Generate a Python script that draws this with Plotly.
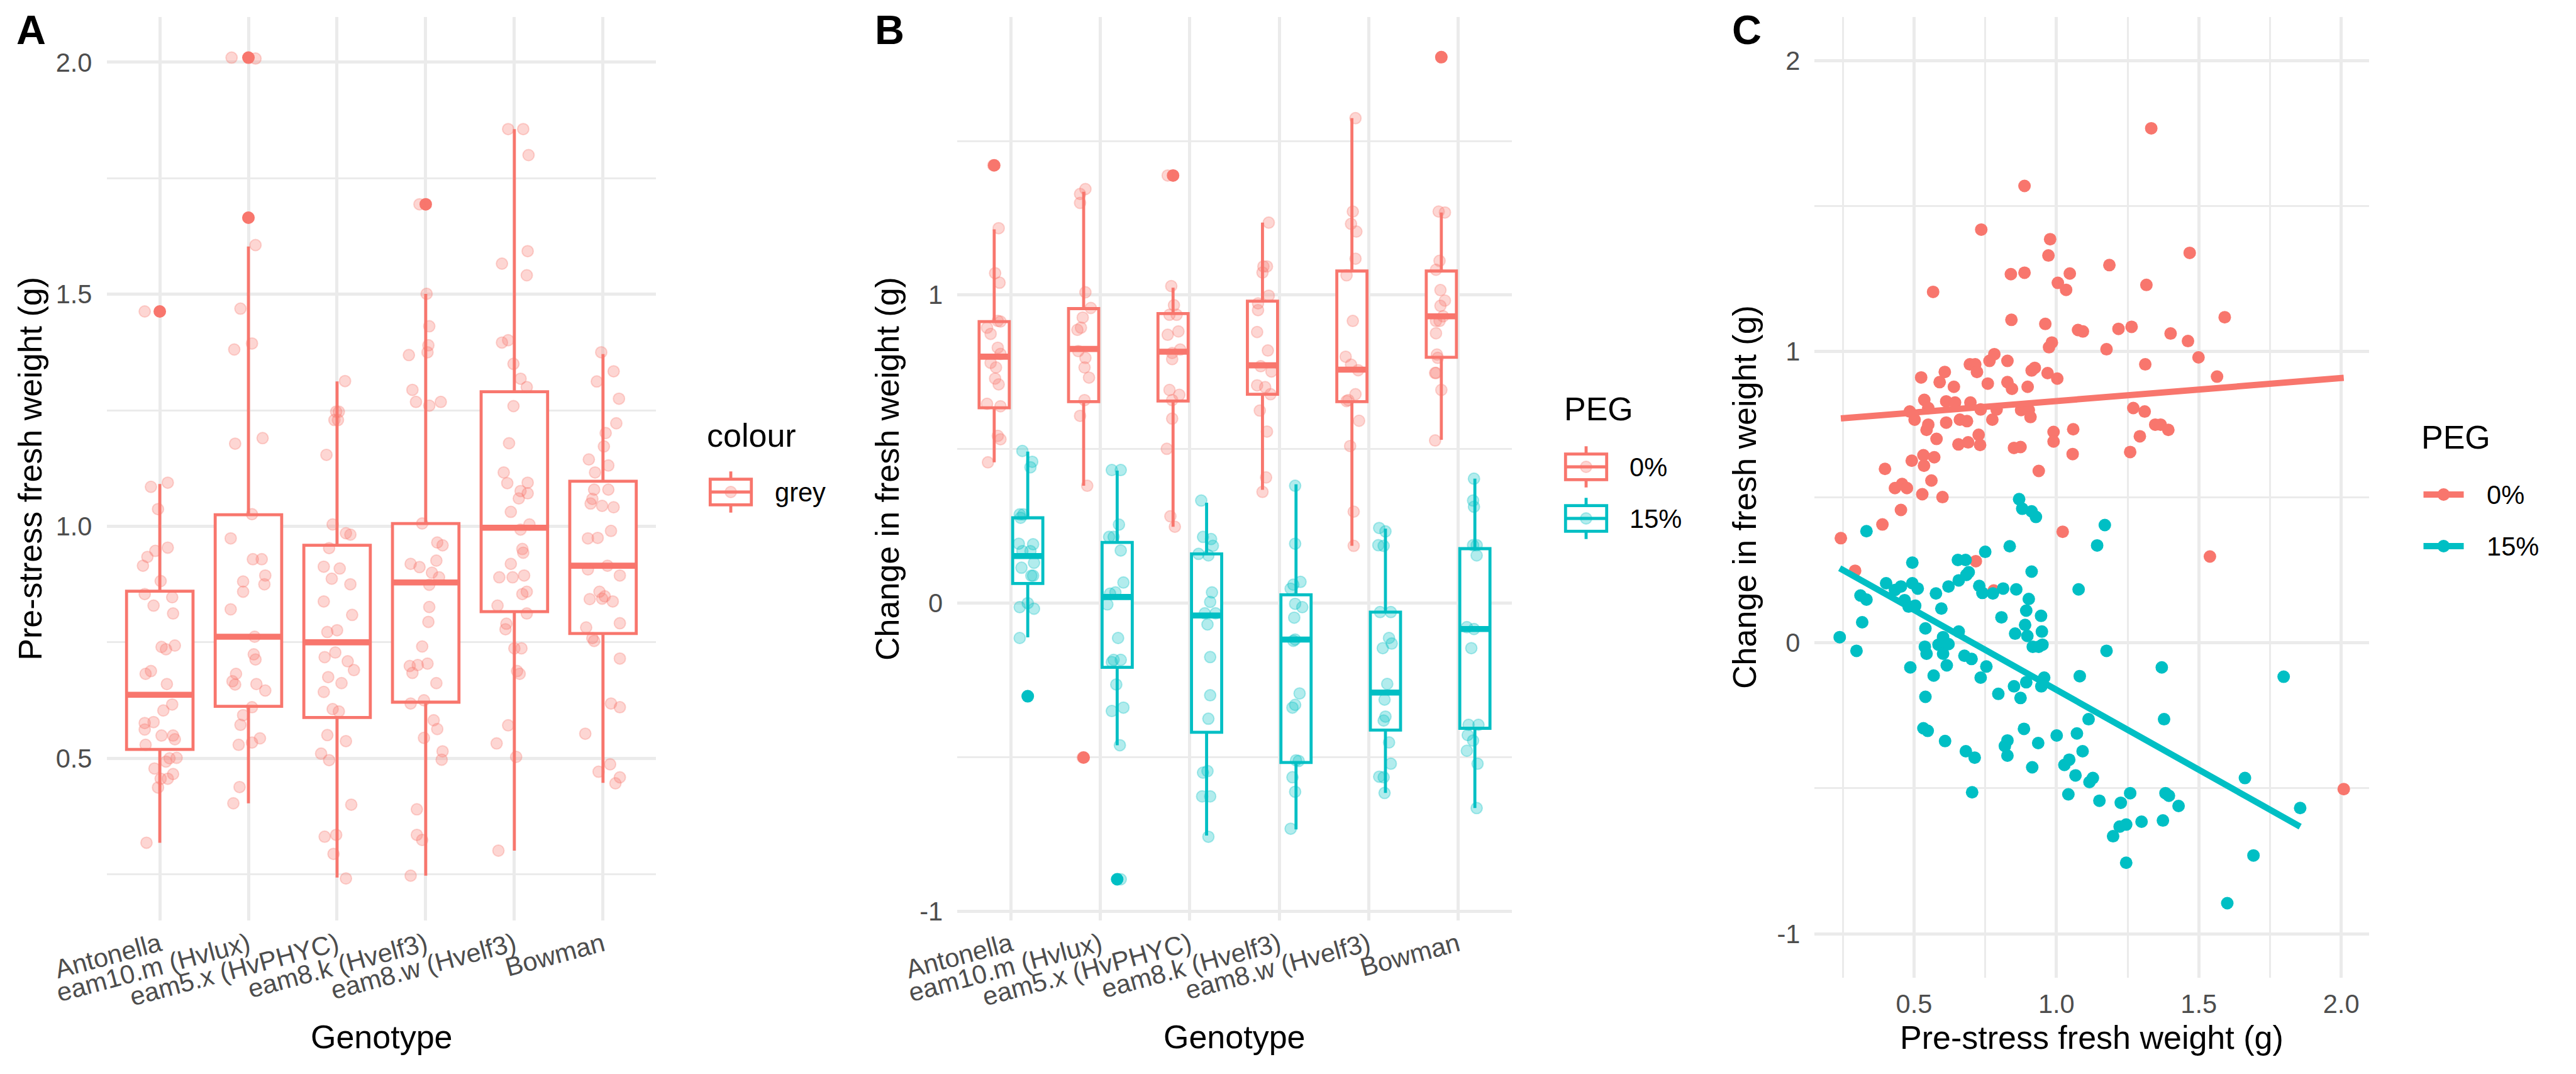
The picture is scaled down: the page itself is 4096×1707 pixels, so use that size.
import numpy as np
import plotly.graph_objects as go

W, H = 4096, 1707
RED = "#F8766D"
TEAL = "#00BFC4"
RED_A = "rgba(248,118,109,0.3)"
TEAL_A = "rgba(0,191,196,0.3)"
GRID = "#EBEBEB"
TICKC = "#4D4D4D"
FONT = "Liberation Sans, Arial, Helvetica, sans-serif"

# ---------------- categories ----------------
genotypes = ["Antonella", "eam10.m (Hvlux)", "eam5.x (HvPHYC)",
             "eam8.k (Hvelf3)", "eam8.w (Hvelf3)", "Bowman"]
positions = [1, 2, 3, 4, 5, 6]

# ---------------- Panel A: pre-stress fresh weight (g) ----------------
pre_antonella = [1.463, 1.094, 1.085, 1.037, 0.954, 0.947, 0.934, 0.915, 0.882, 0.854, 0.847, 0.829,
                 0.812, 0.740, 0.743, 0.735, 0.660, 0.682, 0.688, 0.616, 0.603, 0.576, 0.578, 0.562,
                 0.549, 0.549, 0.529, 0.541, 0.478, 0.500, 0.493, 0.501, 0.456, 0.466, 0.456, 0.437, 0.318]
jit_antonella = [-0.17, 0.09, -0.10, -0.02, 0.09, -0.05, -0.14, -0.19, 0.01, -0.17, 0.14, -0.07,
                 0.15, 0.02, 0.17, 0.07, 0.08, -0.16, -0.10, 0.14, 0.04, -0.17, -0.07, -0.17,
                 0.02, 0.15, -0.16, 0.17, -0.06, 0.11, 0.07, 0.19, 0.01, 0.15, 0.09, -0.02, -0.15]
pre_eam10 = [2.010, 2.008, 1.665, 1.606, 1.469, 1.394, 1.381, 1.190, 1.178, 1.026, 0.974, 0.929,
             0.929, 0.894, 0.881, 0.875, 0.859, 0.821, 0.762, 0.724, 0.713, 0.682, 0.666, 0.659,
             0.660, 0.646, 0.610, 0.593, 0.572, 0.529, 0.543, 0.534, 0.438, 0.403]
jit_eam10 = [-0.19, 0.08, 0.00, 0.08, -0.09, 0.04, -0.16, 0.16, -0.15, 0.04, -0.20, 0.05,
             0.15, 0.19, -0.06, 0.18, -0.06, -0.20, 0.07, 0.06, 0.08, -0.14, -0.18, -0.15,
             0.09, 0.19, 0.04, -0.06, -0.09, -0.11, 0.13, 0.04, -0.10, -0.17]
pre_eam5 = [1.313, 1.247, 1.247, 1.229, 1.229, 1.154, 1.004, 0.985, 0.982, 0.953, 0.913, 0.909,
            0.887, 0.875, 0.838, 0.809, 0.772, 0.776, 0.728, 0.718, 0.709, 0.690, 0.675, 0.662,
            0.643, 0.606, 0.601, 0.550, 0.537, 0.510, 0.496, 0.400, 0.331, 0.335, 0.294, 0.241]
jit_eam5 = [0.09, -0.01, 0.02, -0.03, 0.01, -0.12, -0.05, 0.10, 0.15, -0.09, -0.15, 0.03,
            -0.06, 0.15, -0.15, 0.17, -0.11, 0.00, -0.02, -0.14, 0.12, 0.19, -0.10, 0.05,
            -0.15, -0.05, 0.02, -0.11, 0.10, -0.18, -0.09, 0.16, -0.14, -0.01, -0.04, 0.10]
pre_eam8k = [1.694, 1.501, 1.431, 1.390, 1.375, 1.369, 1.294, 1.268, 1.260, 1.268, 1.006, 0.919,
             0.912, 0.965, 0.959, 0.926, 0.900, 0.890, 0.874, 0.826, 0.794, 0.741, 0.699, 0.701,
             0.704, 0.684, 0.662, 0.618, 0.625, 0.582, 0.563, 0.544, 0.515, 0.497, 0.390, 0.335,
             0.324, 0.247]
jit_eam8k = [-0.07, 0.01, 0.04, 0.03, 0.02, -0.19, -0.15, -0.11, 0.04, 0.17, -0.04, -0.17,
             -0.07, 0.13, 0.19, 0.12, 0.07, 0.15, 0.04, 0.04, 0.03, -0.04, -0.18, -0.09,
             0.02, -0.15, 0.12, -0.17, -0.02, 0.09, 0.13, -0.02, 0.19, 0.18, -0.10, -0.10,
             -0.04, -0.17]
pre_eam8w = [1.856, 1.856, 1.800, 1.566, 1.593, 1.541, 1.396, 1.401, 1.350, 1.318, 1.300, 1.259,
             1.179, 1.116, 1.093, 1.094, 1.076, 1.071, 1.060, 1.031, 1.004, 0.993, 0.951, 0.943,
             0.919, 0.890, 0.890, 0.894, 0.859, 0.854, 0.829, 0.812, 0.790, 0.778, 0.737, 0.737,
             0.688, 0.682, 0.571, 0.532, 0.503, 0.301]
jit_eam8w = [-0.07, 0.10, 0.16, -0.14, 0.15, 0.14, -0.14, -0.07, -0.01, 0.07, 0.14, -0.01,
             -0.06, -0.12, -0.08, 0.15, 0.07, 0.15, 0.05, -0.04, 0.17, 0.07, 0.09, 0.10,
             -0.04, -0.17, -0.02, 0.11, 0.14, 0.09, -0.19, 0.14, -0.09, -0.10, 0.00, 0.08,
             0.03, 0.06, -0.07, -0.20, 0.02, -0.18]
pre_bowman = [1.375, 1.334, 1.312, 1.275, 1.222, 1.201, 1.172, 1.144, 1.131, 1.116, 1.079, 1.079,
              1.059, 1.049, 1.044, 1.041, 0.990, 0.974, 0.975, 0.915, 0.894, 0.907, 0.859, 0.849,
              0.843, 0.838, 0.844, 0.791, 0.782, 0.753, 0.759, 0.715, 0.618, 0.610, 0.553, 0.471,
              0.487, 0.446, 0.459]
jit_bowman = [-0.02, 0.12, -0.07, 0.18, 0.15, 0.03, 0.01, -0.16, 0.06, -0.09, -0.10, 0.06,
              -0.12, -0.14, -0.01, 0.12, 0.09, -0.17, -0.06, 0.05, 0.19, -0.17, -0.04, 0.02,
              -0.15, 0.11, -0.01, 0.19, -0.19, -0.10, -0.12, 0.19, 0.09, 0.19, -0.20, -0.05,
              0.08, 0.14, 0.19]

# box statistics
a_lower = [0.318, 0.403, 0.243, 0.247, 0.301, 0.447]
a_q1 = [0.519, 0.612, 0.588, 0.621, 0.816, 0.769]
a_median = [0.637, 0.762, 0.750, 0.879, 0.997, 0.915]
a_q3 = [0.860, 1.025, 0.959, 1.006, 1.290, 1.097]
a_upper = [1.091, 1.603, 1.312, 1.501, 1.856, 1.371]
a_outlier_pos = [1, 2, 2, 4]
a_outlier_val = [1.463, 2.010, 1.665, 1.694]

# ---------------- Panel B: change in fresh weight (g) ----------------
chg0_antonella = [1.421, 1.217, 1.071, 1.040, 0.894, 0.916, 0.914, 0.874, 0.829, 0.809, 0.780,
                  0.765, 0.729, 0.710, 0.647, 0.639, 0.543, 0.532, 0.457]
jit0_antonella = [-0.01, 0.05, 0.01, 0.06, -0.08, 0.04, 0.07, -0.04, 0.04, 0.07, -0.04,
                  0.02, 0.01, 0.05, -0.08, 0.07, 0.04, 0.07, -0.07]
chg15_antonella = [0.494, 0.459, 0.441, 0.288, 0.288, 0.277, 0.193, 0.191, 0.169, 0.169, 0.131,
                   0.115, 0.089, 0.089, -0.013, 0.000, -0.018, -0.113, -0.302]
jit15_antonella = [-0.06, 0.05, 0.03, -0.09, -0.05, -0.08, -0.10, 0.06, -0.06, 0.03, 0.07,
                   -0.07, 0.04, 0.06, -0.09, 0.00, 0.07, -0.09, 0.00]
chg0_eam10 = [1.344, 1.328, 1.299, 1.009, 0.958, 0.927, 0.887, 0.894, 0.818, 0.796, 0.765,
              0.732, 0.659, 0.608, 0.381, -0.501]
jit0_eam10 = [0.02, -0.04, -0.04, 0.02, 0.08, -0.01, -0.07, -0.03, -0.06, 0.02, 0.01,
              0.06, 0.01, -0.04, 0.04, -0.01]
chg15_eam10 = [0.432, 0.432, 0.255, 0.215, 0.215, 0.171, 0.031, 0.035, 0.067, -0.004, -0.113,
               -0.184, -0.184, -0.191, -0.264, -0.339, -0.350, -0.461, -0.896]
jit15_eam10 = [-0.06, 0.04, 0.02, -0.09, -0.04, 0.04, -0.08, -0.02, 0.07, -0.11, 0.01,
               -0.04, 0.04, -0.06, -0.01, 0.07, -0.06, 0.03, 0.04]
chg0_eam5 = [1.388, 1.029, 0.967, 0.936, 0.936, 0.882, 0.871, 0.812, 0.823, 0.792, 0.692,
             0.676, 0.659, 0.599, 0.501, 0.282, 0.248]
jit0_eam5 = [-0.06, -0.02, 0.01, -0.04, 0.04, 0.06, -0.06, -0.01, 0.08, -0.01, -0.04,
             0.07, -0.01, -0.01, -0.07, -0.03, 0.02]
chg15_eam5 = [0.333, 0.215, 0.208, 0.186, 0.160, 0.155, 0.035, 0.004, -0.033, -0.033, -0.069,
              -0.175, -0.299, -0.375, -0.550, -0.545, -0.627, -0.627, -0.758]
jit15_eam5 = [-0.06, -0.04, 0.05, 0.07, -0.09, 0.02, 0.06, 0.04, -0.02, 0.10, 0.01,
              0.04, 0.04, 0.02, -0.04, 0.01, -0.05, 0.04, 0.02]
chg0_eam8k = [1.235, 1.093, 1.093, 1.073, 0.998, 0.973, 0.951, 0.880, 0.820, 0.769, 0.752,
              0.707, 0.701, 0.678, 0.625, 0.557, 0.408, 0.361]
jit0_eam8k = [0.07, 0.01, 0.05, 0.00, 0.07, -0.05, -0.05, -0.06, 0.06, -0.02, 0.10,
              -0.06, 0.03, 0.09, -0.03, 0.05, 0.04, 0.00]
chg15_eam8k = [0.381, 0.193, 0.069, 0.060, 0.047, -0.002, -0.013, -0.047, -0.118, -0.122, -0.293,
               -0.339, -0.330, -0.510, -0.512, -0.565, -0.612, -0.732]
jit15_eam8k = [-0.01, -0.01, 0.05, -0.03, -0.06, -0.01, 0.07, -0.02, -0.01, -0.03, 0.04,
               -0.04, -0.01, 0.00, 0.03, -0.04, -0.01, -0.06]
chg0_eam8w = [1.574, 1.271, 1.231, 1.206, 1.118, 1.064, 0.916, 0.800, 0.774, 0.756, 0.678,
              0.656, 0.659, 0.592, 0.510, 0.297, 0.186]
jit0_eam8w = [0.04, 0.01, -0.01, 0.05, 0.04, -0.06, 0.01, -0.07, -0.01, 0.07, 0.04,
              -0.06, -0.04, 0.08, -0.02, 0.02, 0.02]
chg15_eam8w = [0.244, 0.233, 0.188, 0.186, -0.029, -0.029, -0.113, -0.131, -0.146, -0.262, -0.313,
               -0.368, -0.381, -0.452, -0.521, -0.563, -0.565, -0.616]
jit15_eam8w = [-0.07, 0.00, -0.08, -0.02, -0.06, 0.06, 0.04, 0.07, -0.03, 0.02, -0.01,
               0.00, -0.02, 0.04, 0.06, -0.07, -0.02, -0.01]
chg0_bowman = [1.772, 1.271, 1.268, 1.111, 1.082, 1.016, 0.982, 0.965, 0.931, 0.916, 0.916,
               0.876, 0.807, 0.796, 0.747, 0.747, 0.692, 0.528]
jit0_bowman = [0.00, -0.03, 0.04, -0.02, -0.06, -0.01, 0.04, -0.01, 0.02, -0.06, -0.02,
               -0.06, -0.05, -0.04, -0.07, -0.06, 0.00, -0.07]
chg15_bowman = [0.404, 0.333, 0.313, 0.188, 0.188, 0.155, -0.078, -0.084, -0.146, -0.395, -0.395,
                -0.428, -0.446, -0.479, -0.521, -0.665]
jit15_bowman = [-0.01, -0.02, -0.01, -0.02, 0.02, 0.02, -0.09, -0.01, -0.04, 0.04, -0.07,
                -0.08, -0.02, -0.09, 0.03, 0.02]

# box statistics
b0_lower = [0.457, 0.381, 0.248, 0.368, 0.186, 0.530]
b0_q1 = [0.634, 0.654, 0.656, 0.678, 0.654, 0.798]
b0_median = [0.800, 0.825, 0.816, 0.772, 0.758, 0.931]
b0_q3 = [0.914, 0.956, 0.940, 0.980, 1.078, 1.078]
b0_upper = [1.213, 1.335, 1.024, 1.235, 1.574, 1.268]
b0_outlier_pos = [1, 2, 3, 6]
b0_outlier_val = [1.421, -0.501, 1.388, 1.772]
b15_lower = [-0.111, -0.461, -0.754, -0.734, -0.616, -0.665]
b15_q1 = [0.064, -0.208, -0.419, -0.517, -0.412, -0.406]
b15_median = [0.153, 0.020, -0.040, -0.118, -0.290, -0.084]
b15_q3 = [0.277, 0.197, 0.160, 0.027, -0.029, 0.177]
b15_upper = [0.492, 0.430, 0.326, 0.386, 0.242, 0.404]
b15_outlier_pos = [1, 2]
b15_outlier_val = [-0.302, -0.896]

# ---------------- Panel C: pre-stress vs change ----------------
c_x0 = [0.243, 0.293, 0.398, 0.389, 0.433, 0.454, 0.458, 0.475, 0.485, 0.492, 0.502, 0.525,
        0.529, 0.533, 0.535, 0.536, 0.544, 0.550, 0.550, 0.561, 0.567, 0.571, 0.579, 0.590,
        0.600, 0.608, 0.613, 0.613, 0.640, 0.644, 0.656, 0.661, 0.686, 0.690, 0.696, 0.698,
        0.715, 0.717, 0.721, 0.727, 0.732, 0.736, 0.734, 0.759, 0.765, 0.775, 0.780, 0.782,
        0.790, 0.828, 0.828, 0.840, 0.842, 0.844, 0.851, 0.874, 0.876, 0.888, 0.888, 0.899,
        0.903, 0.909, 0.913, 0.924, 0.938, 0.961, 0.969, 0.972, 0.974, 0.978, 0.984, 0.990,
        0.990, 1.003, 1.005, 1.022, 1.034, 1.047, 1.057, 1.059, 1.076, 1.093, 1.176, 1.186,
        1.218, 1.259, 1.264, 1.270, 1.293, 1.310, 1.316, 1.312, 1.333, 1.347, 1.366, 1.393,
        1.401, 1.462, 1.468, 1.499, 1.539, 1.564, 1.591, 2.009]
c_y0 = [0.359, 0.247, 0.597, 0.406, 0.531, 0.456, 0.545, 0.531, 0.794, 0.625, 0.766, 0.911,
        0.510, 0.644, 0.608, 0.834, 0.731, 0.806, 0.749, 0.557, 1.205, 0.637, 0.700, 0.895,
        0.500, 0.930, 0.756, 0.829, 0.879, 0.825, 0.681, 0.766, 0.761, 0.688, 0.956, 0.825,
        0.956, 0.280, 0.930, 0.714, 0.679, 1.419, 0.801, 0.890, 0.968, 0.766, 0.179, 0.991,
        0.801, 0.968, 0.895, 1.266, 1.109, 0.872, 0.669, 0.672, 0.799, 1.569, 1.271, 0.879,
        0.799, 0.775, 0.935, 0.944, 0.590, 1.095, 0.926, 1.330, 1.015, 1.386, 1.031, 0.724,
        0.691, 0.907, 1.236, 0.381, 1.212, 1.268, 0.648, 0.733, 1.074, 1.069, 1.008, 1.297,
        1.078, 0.655, 1.085, 0.806, 0.709, 0.794, 1.229, 0.956, 1.767, 0.749, 0.749, 0.731,
        1.062, 1.036, 1.339, 0.980, 0.296, 0.914, 1.118, -0.503]
c_x15 = [0.239, 0.298, 0.318, 0.333, 0.312, 0.333, 0.402, 0.433, 0.454, 0.467, 0.481, 0.487,
         0.494, 0.494, 0.504, 0.513, 0.540, 0.540, 0.538, 0.533, 0.544, 0.548, 0.569, 0.577,
         0.586, 0.596, 0.602, 0.602, 0.609, 0.615, 0.621, 0.621, 0.654, 0.657, 0.657, 0.677,
         0.681, 0.684, 0.682, 0.692, 0.702, 0.704, 0.713, 0.729, 0.734, 0.740, 0.750, 0.754,
         0.777, 0.796, 0.807, 0.813, 0.819, 0.828, 0.828, 0.836, 0.851, 0.855, 0.859, 0.869,
         0.874, 0.880, 0.886, 0.890, 0.894, 0.894, 0.898, 0.903, 0.913, 0.913, 0.915, 0.917,
         0.928, 0.936, 0.938, 0.946, 0.949, 0.951, 0.957, 0.947, 1.001, 1.028, 1.042, 1.045,
         1.067, 1.072, 1.078, 1.082, 1.092, 1.113, 1.116, 1.128, 1.151, 1.170, 1.143, 1.176,
         1.199, 1.222, 1.226, 1.245, 1.245, 1.259, 1.299, 1.370, 1.374, 1.378, 1.383, 1.395,
         1.429, 1.600, 1.662, 1.692, 1.798, 1.856]
c_y15 = [0.019, -0.028, 0.070, 0.383, 0.162, 0.148, 0.204, 0.181, 0.193, 0.146, 0.124, -0.085,
         0.275, 0.204, 0.127, 0.186, 0.049, -0.186, -0.014, -0.294, -0.038, -0.303, -0.113, 0.169,
         -0.007, 0.117, 0.019, -0.038, -0.338, -0.078, -0.005, 0.193, 0.284, 0.038, 0.214, -0.045,
         0.284, 0.233, -0.373, 0.242, -0.056, -0.514, -0.395, 0.195, -0.120, 0.171, 0.312, -0.082,
         0.169, -0.176, 0.087, 0.186, -0.355, -0.336, -0.388, 0.331, -0.150, 0.031, 0.183, 0.493,
         -0.190, 0.460, -0.296, 0.061, 0.110, -0.136, 0.023, 0.150, 0.244, 0.451, -0.428, -0.014,
         0.432, -0.345, -0.014, 0.092, 0.038, -0.007, -0.120, -0.150, -0.319, -0.420, -0.521, -0.402,
         -0.456, -0.312, 0.183, -0.115, -0.373, -0.263, -0.479, -0.465, -0.543, 0.404, 0.334, -0.028,
         -0.665, -0.632, -0.550, -0.625, -0.756, -0.517, -0.615, -0.085, -0.611, -0.263, -0.517, -0.526,
         -0.561, -0.895, -0.465, -0.731, -0.117, -0.568]

# linear-fit lines as drawn in panel C (intercept, slope)
c_fit0 = [0.751, 0.079]
c_fit15 = [0.387, -0.549]

# tick labels / gridlines
a_yticks = [0.5, 1.0, 1.5, 2.0]
a_yminor = [0.25, 0.75, 1.25, 1.75]
b_yticks = [-1, 0, 1]
b_yminor = [-0.5, 0.5, 1.5]
c_xticks = [0.5, 1.0, 1.5, 2.0]
c_xminor = [0.25, 0.75, 1.25, 1.75]
c_yticks = [-1, 0, 1, 2]
c_yminor = [-0.5, 0.5, 1.5]

pre_groups = [(pre_antonella, jit_antonella), (pre_eam10, jit_eam10), (pre_eam5, jit_eam5),
              (pre_eam8k, jit_eam8k), (pre_eam8w, jit_eam8w), (pre_bowman, jit_bowman)]
chg0_groups = [(chg0_antonella, jit0_antonella), (chg0_eam10, jit0_eam10), (chg0_eam5, jit0_eam5),
               (chg0_eam8k, jit0_eam8k), (chg0_eam8w, jit0_eam8w), (chg0_bowman, jit0_bowman)]
chg15_groups = [(chg15_antonella, jit15_antonella), (chg15_eam10, jit15_eam10), (chg15_eam5, jit15_eam5),
                (chg15_eam8k, jit15_eam8k), (chg15_eam8w, jit15_eam8w), (chg15_bowman, jit15_bowman)]

# ---------------- layout helpers (pixel -> paper) ----------------
def px(x):
    return x / W

def py(y):
    return 1 - y / H

BOX_LW = 4.8
MED_LW = 9.6
FIT_LW = 10
PT = 18
PT_LINE = 2

fig = go.Figure()

# ---------- Panel A ----------
A_W = 0.75
fig.add_trace(go.Box(x=positions, q1=a_q1, median=a_median, q3=a_q3,
                     lowerfence=a_lower, upperfence=a_upper, orientation="v",
                     width=A_W, whiskerwidth=0, boxpoints=False,
                     line=dict(color=RED, width=BOX_LW), fillcolor="white",
                     xaxis="x", yaxis="y", showlegend=False, hoverinfo="skip"))
mx, my = [], []
for p, m in zip(positions, a_median):
    mx += [p - A_W / 2, p + A_W / 2, None]
    my += [m, m, None]
fig.add_trace(go.Scatter(x=mx, y=my, mode="lines", line=dict(color=RED, width=MED_LW),
                         xaxis="x", yaxis="y", showlegend=False, hoverinfo="skip"))
fig.add_trace(go.Scatter(x=a_outlier_pos, y=a_outlier_val, mode="markers",
                         marker=dict(size=PT + PT_LINE, color=RED, line=dict(width=0)),
                         xaxis="x", yaxis="y", showlegend=False, hoverinfo="skip"))
jx, jy = [], []
for p, (vals, jit) in zip(positions, pre_groups):
    jx += [p + j for j in jit]
    jy += list(vals)
fig.add_trace(go.Scatter(x=jx, y=jy, mode="markers",
                         marker=dict(size=PT, color=RED_A, line=dict(color=RED_A, width=PT_LINE)),
                         xaxis="x", yaxis="y", showlegend=False, hoverinfo="skip"))

# ---------- Panel B ----------
B_W = 0.3375
B_OFF = 0.1875
for sign, col, q1, med, q3, lo, hi, opos, oval in [
        (-1, RED, b0_q1, b0_median, b0_q3, b0_lower, b0_upper, b0_outlier_pos, b0_outlier_val),
        (1, TEAL, b15_q1, b15_median, b15_q3, b15_lower, b15_upper, b15_outlier_pos, b15_outlier_val)]:
    bx = [p + sign * B_OFF for p in positions]
    fig.add_trace(go.Box(x=bx, q1=q1, median=med, q3=q3, lowerfence=lo, upperfence=hi,
                         orientation="v", width=B_W, whiskerwidth=0, boxpoints=False,
                         line=dict(color=col, width=BOX_LW), fillcolor="white",
                         xaxis="x2", yaxis="y2", showlegend=False, hoverinfo="skip"))
    mx, my = [], []
    for p, m in zip(bx, med):
        mx += [p - B_W / 2, p + B_W / 2, None]
        my += [m, m, None]
    fig.add_trace(go.Scatter(x=mx, y=my, mode="lines", line=dict(color=col, width=MED_LW),
                             xaxis="x2", yaxis="y2", showlegend=False, hoverinfo="skip"))
    fig.add_trace(go.Scatter(x=[p + sign * B_OFF for p in opos], y=oval, mode="markers",
                             marker=dict(size=PT + PT_LINE, color=col, line=dict(width=0)),
                             xaxis="x2", yaxis="y2", showlegend=False, hoverinfo="skip"))
for sign, cola, groups in [(-1, RED_A, chg0_groups), (1, TEAL_A, chg15_groups)]:
    jx, jy = [], []
    for p, (vals, jit) in zip(positions, groups):
        jx += [p + sign * B_OFF + j for j in jit]
        jy += list(vals)
    fig.add_trace(go.Scatter(x=jx, y=jy, mode="markers",
                             marker=dict(size=PT, color=cola, line=dict(color=cola, width=PT_LINE)),
                             xaxis="x2", yaxis="y2", showlegend=False, hoverinfo="skip"))

# ---------- Panel C ----------
for xs, ys, col in [(c_x0, c_y0, RED), (c_x15, c_y15, TEAL)]:
    fig.add_trace(go.Scatter(x=xs, y=ys, mode="markers",
                             marker=dict(size=PT + PT_LINE, color=col, line=dict(width=0)),
                             xaxis="x3", yaxis="y3", showlegend=False, hoverinfo="skip"))
for xs, fit, col in [(c_x0, c_fit0, RED), (c_x15, c_fit15, TEAL)]:
    lx = np.array([min(xs), max(xs)])
    fig.add_trace(go.Scatter(x=lx, y=fit[0] + fit[1] * lx, mode="lines",
                             line=dict(color=col, width=FIT_LW),
                             xaxis="x3", yaxis="y3", showlegend=False, hoverinfo="skip"))

# ---------------- axes ----------------
PANEL_A_X = (169.5, 1043.4)
PANEL_B_X = (1522.2, 2403.8)
PANEL_C_X = (2885.4, 3767.0)
PANEL_AB_Y = (26.7, 1462.6)
PANEL_C_Y = (26.7, 1553.5)

tickfont = dict(family=FONT, size=41.6, color=TICKC)
common = dict(showgrid=True, gridcolor=GRID, gridwidth=5, zeroline=False, showline=False,
              ticks="", tickfont=tickfont, automargin=False)

def minor(vals):
    return dict(tickvals=vals, showgrid=True, gridcolor=GRID, gridwidth=2.5, ticks="")

fig.update_layout(
    width=W, height=H, margin=dict(l=0, r=0, t=0, b=0, pad=0, autoexpand=False),
    paper_bgcolor="white", plot_bgcolor="white", showlegend=False,
    font=dict(family=FONT),
    xaxis=dict(domain=[px(PANEL_A_X[0]), px(PANEL_A_X[1])], anchor="y", range=[0.4, 6.6],
               tickvals=positions, ticktext=genotypes, tickangle=-15, ticklabelstandoff=6, **common),
    yaxis=dict(domain=[py(PANEL_AB_Y[1]), py(PANEL_AB_Y[0])], anchor="x", range=[0.151, 2.098],
               tickvals=a_yticks, ticktext=["0.5", "1.0", "1.5", "2.0"], minor=minor(a_yminor),
               ticklabelstandoff=22, **common),
    xaxis2=dict(domain=[px(PANEL_B_X[0]), px(PANEL_B_X[1])], anchor="y2", range=[0.4, 6.6],
                tickvals=positions, ticktext=genotypes, tickangle=-15, ticklabelstandoff=6, **common),
    yaxis2=dict(domain=[py(PANEL_AB_Y[1]), py(PANEL_AB_Y[0])], anchor="x2", range=[-1.029, 1.903],
                tickvals=b_yticks, ticktext=["-1", "0", "1"], minor=minor(b_yminor),
                ticklabelstandoff=22, **common),
    xaxis3=dict(domain=[px(PANEL_C_X[0]), px(PANEL_C_X[1])], anchor="y3", range=[0.151, 2.098],
                tickvals=c_xticks, ticktext=["0.5", "1.0", "1.5", "2.0"], minor=minor(c_xminor),
                ticklabelstandoff=14, **common),
    yaxis3=dict(domain=[py(PANEL_C_Y[1]), py(PANEL_C_Y[0])], anchor="x3", range=[-1.15, 2.15],
                tickvals=c_yticks, ticktext=["-1", "0", "1", "2"], minor=minor(c_yminor),
                ticklabelstandoff=22, **common),
)

# ---------------- annotations: tags, axis titles, legends ----------------
ann = []
def text(x, y, s, size, xanchor="center", yanchor="middle", angle=0, bold=False, color="black"):
    ann.append(dict(x=px(x), y=py(y), xref="paper", yref="paper", text=("<b>%s</b>" % s) if bold else s,
                    showarrow=False, xanchor=xanchor, yanchor=yanchor, textangle=angle,
                    font=dict(family=FONT, size=size, color=color)))

TITLE = 52
LEG = 41.6
for lbl, x in [("A", 24), ("B", 1389), ("C", 2752)]:
    text(x, 47, lbl, 65, xanchor="left", bold=True)
text(47.7, 745, "Pre-stress fresh weight (g)", TITLE, angle=-90)
text(1411, 745, "Change in fresh weight (g)", TITLE, angle=-90)
text(2774, 790, "Change in fresh weight (g)", TITLE, angle=-90)
text(606.5, 1648, "Genotype", TITLE)
text(1963, 1648, "Genotype", TITLE)
text(3326, 1649, "Pre-stress fresh weight (g)", TITLE)

# legend titles & labels
text(1121.6, 692, "colour", TITLE, xanchor="left")
text(1230, 782, "grey", LEG, xanchor="left")
text(2485, 650, "PEG", TITLE, xanchor="left")
text(2589, 742, "0%", LEG, xanchor="left")
text(2589, 824, "15%", LEG, xanchor="left")
text(3848, 695, "PEG", TITLE, xanchor="left")
text(3952, 786, "0%", LEG, xanchor="left")
text(3952, 868, "15%", LEG, xanchor="left")

shapes = []
KEY = 81.8
def box_key(cx, cy, col, cola):
    bw, bh, wh = 0.8 * KEY, 0.5 * KEY, 0.15 * KEY
    shapes.append(dict(type="line", xref="paper", yref="paper", x0=px(cx), x1=px(cx),
                       y0=py(cy - bh / 2 - wh), y1=py(cy + bh / 2 + wh), line=dict(color=col, width=BOX_LW)))
    shapes.append(dict(type="rect", xref="paper", yref="paper", x0=px(cx - bw / 2), x1=px(cx + bw / 2),
                       y0=py(cy + bh / 2), y1=py(cy - bh / 2), line=dict(color=col, width=BOX_LW),
                       fillcolor="white"))
    shapes.append(dict(type="line", xref="paper", yref="paper", x0=px(cx - bw / 2), x1=px(cx + bw / 2),
                       y0=py(cy), y1=py(cy), line=dict(color=col, width=BOX_LW)))
    shapes.append(dict(type="circle", xref="paper", yref="paper", xsizemode="pixel", ysizemode="pixel",
                       xanchor=px(cx), yanchor=py(cy), x0=-PT / 2, x1=PT / 2, y0=-PT / 2, y1=PT / 2,
                       fillcolor=cola, line=dict(color=cola, width=PT_LINE)))

def line_key(cx, cy, col):
    shapes.append(dict(type="line", xref="paper", yref="paper", x0=px(cx - 32), x1=px(cx + 32),
                       y0=py(cy), y1=py(cy), line=dict(color=col, width=FIT_LW)))
    r = (PT + PT_LINE) / 2
    shapes.append(dict(type="circle", xref="paper", yref="paper", xsizemode="pixel", ysizemode="pixel",
                       xanchor=px(cx), yanchor=py(cy), x0=-r, x1=r, y0=-r, y1=r,
                       fillcolor=col, line=dict(width=0)))

box_key(1162, 782, RED, RED_A)
box_key(2522, 742, RED, RED_A)
box_key(2522, 824, TEAL, TEAL_A)
line_key(3885.5, 786, RED)
line_key(3885.5, 868, TEAL)

fig.update_layout(annotations=ann, shapes=shapes)
fig.write_html("out.html")
